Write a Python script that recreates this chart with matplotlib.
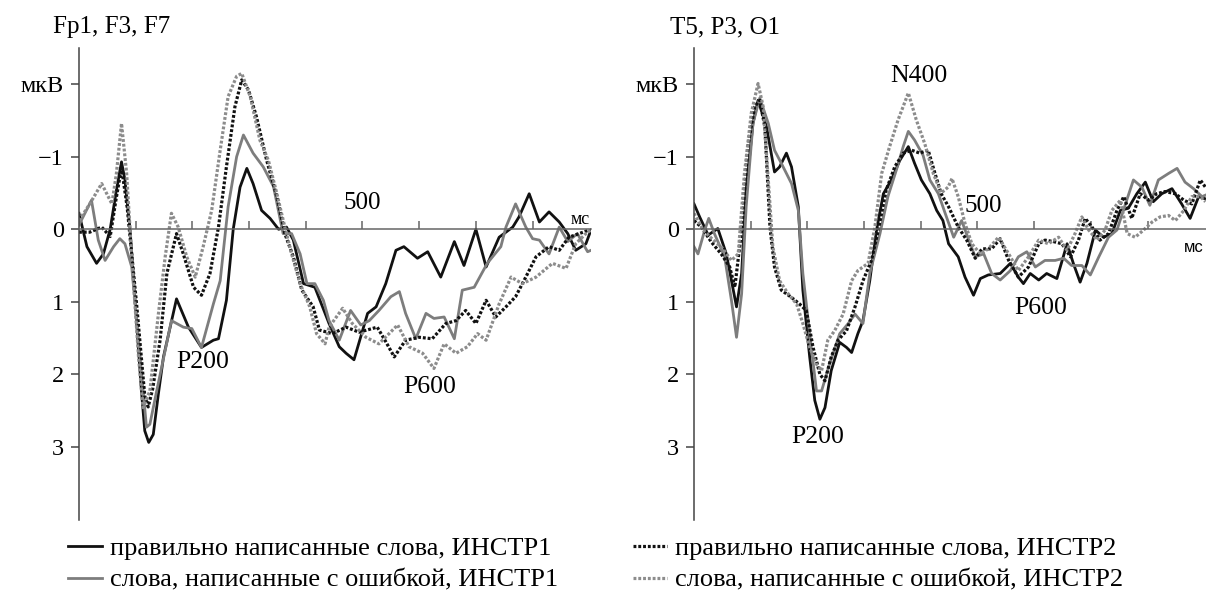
import matplotlib
matplotlib.use('Agg')
from matplotlib import pyplot as plt
from matplotlib.lines import Line2D

plt.rcParams['font.family'] = ['Liberation Serif', 'DejaVu Serif']

# Fp1, F3, F7 -- time (ms) and amplitude (мкВ, negative up)
fp_t_ok1 = [0, 14, 31, 43, 55, 66, 75, 81, 90, 110, 116, 123, 131, 140, 149, 172, 193, 216, 237, 246, 260, 272, 284, 296,
            307, 322, 337, 352, 366, 378, 396, 416, 441, 459, 471, 485, 497, 509, 524, 541, 559, 573, 597, 615, 638,
            662, 679, 700, 718, 741, 765, 776, 794, 812, 829, 847, 862, 876, 894, 903]
fp_v_ok1 = [-0.22, 0.24, 0.47, 0.34, 0.0, -0.54, -0.93, -0.68, 0.0, 2.22, 2.78, 2.94, 2.83, 2.27, 1.76, 0.96, 1.35, 1.63,
            1.53, 1.51, 0.98, 0.0, -0.58, -0.84, -0.63, -0.26, -0.15, 0.0, -0.03, 0.15, 0.75, 0.8, 1.3, 1.62, 1.71,
            1.8, 1.48, 1.16, 1.07, 0.75, 0.29, 0.24, 0.4, 0.31, 0.66, 0.17, 0.5, 0.0, 0.52, 0.11, -0.03, -0.17, -0.49,
            -0.1, -0.24, -0.1, 0.06, 0.29, 0.2, 0.01]
fp_t_err1 = [0, 22, 34, 46, 61, 72, 81, 93, 105, 119, 125, 137, 163, 184, 199, 216, 237, 249, 263, 278, 290, 307, 325,
             343, 360, 375, 390, 402, 416, 431, 441, 459, 479, 497, 512, 529, 550, 565, 576, 594, 612, 626, 644, 662,
             676, 697, 720, 744, 753, 770, 788, 800, 812, 829, 847, 862, 879, 897, 903]
fp_v_err1 = [-0.06, -0.4, 0.15, 0.43, 0.24, 0.13, 0.2, 0.52, 1.53, 2.73, 2.69, 2.23, 1.26, 1.35, 1.37, 1.63, 1.03, 0.71,
             -0.31, -1.0, -1.3, -1.05, -0.86, -0.59, 0.06, 0.06, 0.34, 0.75, 0.75, 0.98, 1.26, 1.53, 1.12, 1.32, 1.26,
             1.12, 0.93, 0.86, 1.16, 1.51, 1.16, 1.23, 1.21, 1.51, 0.84, 0.8, 0.47, 0.24, -0.03, -0.35, -0.03, 0.13,
             0.15, 0.34, -0.03, 0.17, 0.06, 0.31, 0.29]
fp_t_ok2 = [0, 19, 40, 55, 65, 75, 85, 102, 116, 122, 130, 143, 155, 172, 184, 202, 216, 231, 246, 260, 275, 287, 299,
            313, 331, 349, 363, 378, 393, 413, 424, 447, 471, 494, 526, 541, 556, 576, 600, 623, 647, 665, 682, 700,
            718, 735, 753, 770, 788, 806, 829, 847, 864, 882, 900]
fp_v_ok2 = [0.04, 0.04, -0.03, 0.1, -0.4, -0.85, -0.3, 1.07, 2.3, 2.45, 2.2, 1.53, 0.61, 0.06, 0.34, 0.8, 0.91, 0.61,
            -0.03, -0.86, -1.69, -2.06, -1.92, -1.55, -0.95, -0.45, 0.06, 0.38, 0.84, 1.07, 1.39, 1.44, 1.35, 1.42,
            1.35, 1.55, 1.76, 1.53, 1.49, 1.51, 1.3, 1.26, 1.12, 1.3, 0.98, 1.21, 1.07, 0.93, 0.66, 0.38, 0.24, 0.29,
            0.11, 0.06, 0.01]
fp_t_err2 = [0, 19, 40, 58, 66, 75, 84, 93, 105, 113, 125, 140, 152, 163, 175, 190, 205, 219, 234, 249, 263, 278, 287,
             302, 319, 334, 349, 363, 375, 390, 407, 419, 434, 441, 465, 482, 506, 529, 562, 582, 606, 626, 644, 665,
             685, 703, 718, 741, 762, 782, 806, 835, 859, 876, 894, 903]
fp_v_err2 = [-0.12, -0.35, -0.63, -0.35, -0.77, -1.46, -0.77, 0.38, 1.76, 2.46, 2.23, 1.17, 0.38, -0.22, -0.03, 0.38,
             0.66, 0.24, -0.26, -1.09, -1.83, -2.11, -2.15, -1.83, -1.23, -0.95, -0.49, -0.03, 0.34, 0.75, 1.07, 1.44,
             1.58, 1.35, 1.09, 1.3, 1.49, 1.58, 1.32, 1.62, 1.71, 1.92, 1.58, 1.71, 1.62, 1.44, 1.53, 1.03, 0.66, 0.75,
             0.66, 0.47, 0.54, 0.2, 0.06, 0.01]

# T5, P3, O1
tp_t_ok1 = [0, 10, 25, 42, 57, 75, 84, 92, 104, 113, 128, 142, 151, 163, 172, 184, 192, 204, 213, 222, 231, 242, 257,
            269, 278, 289, 298, 310, 322, 334, 348, 363, 378, 389, 401, 416, 428, 439, 449, 466, 478, 493, 505, 519,
            540, 558, 572, 581, 593, 608, 622, 640, 658, 669, 681, 693, 708, 722, 737, 752, 766, 781, 796, 810, 825,
            843, 860, 875, 890, 902]
tp_v_ok1 = [-0.35, -0.17, 0.08, -0.01, 0.34, 1.07, 0.61, -0.54, -1.46, -1.78, -1.41, -0.79, -0.86, -1.05, -0.86, -0.31,
            0.84, 1.76, 2.36, 2.62, 2.46, 1.95, 1.56, 1.63, 1.7, 1.44, 1.26, 0.71, 0.01, -0.49, -0.68, -0.95, -1.14,
            -0.91, -0.68, -0.49, -0.26, -0.12, 0.2, 0.38, 0.66, 0.91, 0.68, 0.63, 0.61, 0.47, 0.66, 0.75, 0.61, 0.7,
            0.61, 0.68, 0.2, 0.47, 0.73, 0.47, 0.01, 0.11, 0.06, -0.26, -0.29, -0.49, -0.65, -0.38, -0.49, -0.56,
            -0.35, -0.15, -0.45, -0.42]
tp_t_err1 = [0, 7, 19, 26, 36, 54, 66, 75, 84, 92, 104, 116, 131, 142, 154, 172, 184, 192, 204, 216, 225, 239, 257, 272,
             284, 298, 310, 328, 342, 357, 369, 378, 389, 404, 416, 431, 443, 458, 472, 487, 496, 511, 525, 540, 558,
             572, 587, 602, 619, 637, 652, 666, 684, 699, 714, 731, 746, 761, 775, 790, 804, 819, 837, 852, 866, 881,
             896, 902]
tp_v_err1 = [0.24, 0.34, 0.01, -0.15, 0.06, 0.38, 0.98, 1.49, 0.89, -0.31, -1.46, -1.81, -1.46, -1.09, -0.91, -0.63,
             -0.26, 0.61, 1.44, 2.23, 2.23, 1.86, 1.44, 1.3, 1.17, 1.3, 0.61, 0.06, -0.45, -0.82, -1.14, -1.35, -1.23,
             -1.02, -0.68, -0.49, -0.22, 0.11, -0.12, 0.2, 0.38, 0.34, 0.61, 0.7, 0.57, 0.38, 0.31, 0.52, 0.43, 0.43,
             0.4, 0.5, 0.5, 0.63, 0.38, 0.11, 0.01, -0.35, -0.68, -0.58, -0.33, -0.68, -0.77, -0.84, -0.65, -0.56,
             -0.45, -0.47]
tp_t_ok2 = [0, 13, 31, 48, 63, 72, 84, 95, 107, 116, 125, 134, 142, 154, 172, 186, 198, 210, 222, 231, 242, 254, 269,
            284, 298, 313, 325, 339, 354, 369, 384, 398, 413, 425, 436, 449, 466, 481, 496, 508, 525, 540, 555, 572,
            590, 608, 619, 634, 649, 664, 678, 690, 702, 716, 731, 746, 758, 772, 787, 802, 816, 831, 849, 864, 878,
            893, 902]
tp_v_ok2 = [-0.12, -0.03, 0.18, 0.34, 0.52, 0.8, 0.01, -1.14, -1.69, -1.78, -1.41, -0.03, 0.52, 0.84, 0.94, 1.03, 1.12,
            1.63, 2.0, 2.09, 1.76, 1.53, 1.4, 1.07, 0.71, 0.43, 0.01, -0.54, -0.86, -1.05, -1.09, -1.05, -1.09, -0.77,
            -0.49, -0.31, -0.03, 0.15, 0.4, 0.27, 0.27, 0.13, 0.43, 0.66, 0.52, 0.2, 0.15, 0.17, 0.2, 0.38, 0.15,
            -0.15, -0.03, 0.15, 0.06, -0.26, -0.45, -0.15, -0.49, -0.4, -0.49, -0.52, -0.49, -0.4, -0.35, -0.68, -0.58]
tp_t_err2 = [0, 16, 34, 48, 66, 78, 89, 101, 113, 122, 131, 139, 151, 166, 181, 192, 204, 216, 225, 236, 248, 263, 278,
             289, 307, 319, 331, 345, 360, 378, 392, 407, 422, 436, 448, 455, 466, 478, 490, 505, 519, 537, 555, 572,
             590, 608, 625, 643, 658, 672, 684, 696, 711, 725, 737, 752, 764, 778, 793, 808, 822, 837, 849, 864, 878,
             893, 902]
tp_v_err2 = [-0.22, 0.01, 0.15, 0.24, 0.43, 0.34, -0.77, -1.6, -2.01, -1.69, -0.68, 0.24, 0.71, 0.89, 1.03, 1.3, 1.63,
             1.86, 1.95, 1.53, 1.4, 1.17, 0.71, 0.57, 0.47, -0.03, -0.77, -1.14, -1.51, -1.88, -1.51, -1.18, -0.77,
             -0.5, -0.58, -0.7, -0.45, -0.08, 0.2, 0.34, 0.27, 0.11, 0.34, 0.57, 0.38, 0.15, 0.2, 0.11, 0.29, 0.06,
             -0.17, 0.01, 0.15, 0.01, -0.26, -0.4, 0.06, 0.11, 0.01, -0.1, -0.17, -0.19, -0.12, -0.26, -0.45, -0.45,
             -0.38]

y_ticks = [-2, -1, 0, 1, 2, 3]
y_labels = ['мкВ', '−1', '0', '1', '2', '3']
x_ticks = [100, 200, 300, 400, 500, 600, 700, 800]
labels = ['правильно написанные слова, ИНСТР1', 'слова, написанные с ошибкой, ИНСТР1',
          'правильно написанные слова, ИНСТР2', 'слова, написанные с ошибкой, ИНСТР2']

BLACK = '#111111'
GRAY = '#7d7d7d'
GRAY_DOT = '#8c8c8c'
DOTS = (0, (0.9, 0.6))
styles = [dict(color=BLACK, lw=2.0, ls='-'), dict(color=GRAY, lw=2.0, ls='-'),
          dict(color=BLACK, lw=2.3, ls=DOTS), dict(color=GRAY_DOT, lw=2.3, ls=DOTS)]

fig = plt.figure(figsize=(12.06, 5.92), dpi=100)
W, H = 1206, 592
ax1 = fig.add_axes([79 / W, 72 / H, 512 / W, 472 / H])
ax2 = fig.add_axes([694 / W, 72 / H, 512 / W, 472 / H])


def setup(ax):
    ax.set_xlim(0, 903)
    ax.set_ylim(4.01, -2.5)
    for s in ['top', 'right']:
        ax.spines[s].set_visible(False)
    ax.spines['bottom'].set_position(('data', 0))
    ax.spines['bottom'].set_color('#666666')
    ax.spines['left'].set_color('#444444')
    ax.spines['bottom'].set_linewidth(1.1)
    ax.spines['left'].set_linewidth(1.1)
    ax.set_yticks(y_ticks)
    ax.set_yticklabels(y_labels)
    ax.set_xticks(x_ticks)
    ax.set_xticklabels([])
    ax.tick_params(axis='y', direction='out', length=6, width=1.1, pad=5, labelsize=17.5, color='#444444')
    ax.tick_params(axis='x', direction='in', length=6, width=1.1, color='#666666')
    ax.patch.set_alpha(0)


setup(ax1)
setup(ax2)

for t, v, st in zip([fp_t_ok1, fp_t_err1, fp_t_ok2, fp_t_err2], [fp_v_ok1, fp_v_err1, fp_v_ok2, fp_v_err2], styles):
    ax1.plot(t, v, **st)
for t, v, st in zip([tp_t_ok1, tp_t_err1, tp_t_ok2, tp_t_err2], [tp_v_ok1, tp_v_err1, tp_v_ok2, tp_v_err2], styles):
    ax2.plot(t, v, **st)

ax1.text(500, -0.36, '500', ha='center', va='center', fontsize=18)
ax1.text(884, -0.14, 'мс', ha='center', va='center', fontsize=13)
ax1.text(219, 1.83, 'P200', ha='center', va='center', fontsize=18.5)
ax1.text(619, 2.17, 'P600', ha='center', va='center', fontsize=18.5)

ax2.text(510, -0.32, '500', ha='center', va='center', fontsize=18)
ax2.text(882, 0.25, 'мс', ha='center', va='center', fontsize=12, family=['Liberation Sans', 'DejaVu Sans'])
ax2.text(397, -2.12, 'N400', ha='center', va='center', fontsize=18.5)
ax2.text(219, 2.86, 'P200', ha='center', va='center', fontsize=18.5)
ax2.text(612, 1.08, 'P600', ha='center', va='center', fontsize=18.5)

fig.text(53 / W, 1 - 27 / H, 'Fp1, F3, F7', ha='left', va='center', fontsize=18)
fig.text(670 / W, 1 - 27 / H, 'T5, P3, O1', ha='left', va='center', fontsize=18)

handles = [Line2D([], [], **st) for st in styles]
leg_kw = dict(frameon=False, fontsize=19, handlelength=1.3, handletextpad=0.3, labelspacing=0.3,
              borderpad=0, borderaxespad=0, loc='upper left')
fig.legend(handles[:2], labels[:2], bbox_to_anchor=(68 / W, 1 - 537 / H), **leg_kw)
fig.legend(handles[2:], labels[2:], bbox_to_anchor=(633 / W, 1 - 537 / H), **leg_kw)

fig.savefig('out.png', dpi=100)
